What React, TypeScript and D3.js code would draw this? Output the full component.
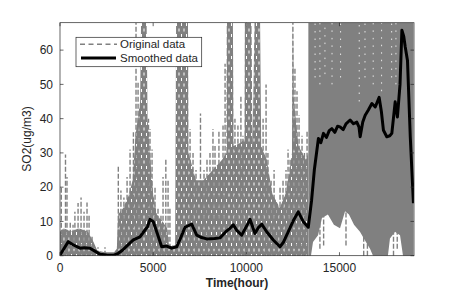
import React from "react";
import * as d3 from "d3";

// sparse part of the original data (many overlapping dashes): [time, low, high]
const sparseBand: [number, number, number][] = [
  [0, 0, 7], [200, 0, 8], [600, 0, 7], [1000, 0, 8], [1500, 0, 7], [1800, 0, 4],
  [2000, 0, 1.5], [2400, 0, 1], [2900, 0, 1], [3050, 0, 2], [3120, 0, 12], [3400, 0, 14],
  [3700, 0, 18], [3900, 0, 22], [4050, 0, 35], [4300, 0, 45], [4350, 0, 68], [4650, 0, 68],
  [4700, 0, 40], [4850, 0, 28], [5000, 0, 18], [5200, 0, 12], [5500, 0, 10], [5750, 0, 8],
  [5850, 0, 3], [6180, 0, 3], [6230, 0, 68], [6870, 0, 68], [6900, 0, 30], [7300, 0, 22],
  [7700, 0, 22], [8200, 0, 25], [8700, 0, 28], [8930, 0, 30], [8950, 0, 68], [9280, 0, 68],
  [9320, 0, 32], [9700, 0, 33], [9900, 0, 34], [9920, 0, 68], [10280, 0, 68], [10330, 0, 32],
  [10440, 0, 68], [10740, 0, 68], [10800, 0, 32], [11100, 0, 28], [11400, 0, 18], [11800, 0, 14],
  [12100, 0, 18], [12300, 0, 24], [12450, 0, 30], [12500, 0, 68], [12560, 0, 45], [12800, 0, 32],
  [13200, 0, 28], [13330, 0, 30],
];

// dense part of the original data: [time, low, high]
const denseBand: [number, number, number][] = [
  [13330, 0, 68], [13470, 0, 68], [13580, 4, 68], [13850, 6, 68], [14060, 11, 68], [14380, 12, 68],
  [14700, 9, 68], [15030, 8, 68], [15300, 13, 68], [15510, 12, 68], [15780, 9, 68], [16100, 7, 68],
  [16420, 4, 68], [16640, 2, 68], [16800, 0, 68], [17600, 0, 68], [17710, 5, 68], [17980, 7, 68],
  [18250, 6, 68], [18410, 0, 68], [18970, 0, 68],
];

// single dashed strokes of the original data: [time, low, high]
const originalSpikes: [number, number, number][] = [
  [70, 0, 20], [295, 0, 29.5], [375, 0, 23], [550, 0, 10], [700, 0, 9], [800, 0, 12.8],
  [970, 0, 15.4], [1130, 0, 17], [1290, 0, 12.8], [1450, 0, 15.5], [1560, 0, 11.9], [1720, 0, 6],
  [2040, 0, 2.5], [2415, 0, 2.5],
  [3130, 0, 26], [3270, 0, 19], [3430, 0, 17], [3600, 0, 23], [3760, 0, 31], [3940, 0, 36],
  [4080, 0, 68], [4190, 0, 51], [4290, 0, 42], [4750, 0, 40], [4830, 0, 37], [4940, 0, 31],
  [5100, 0, 20], [5260, 0, 14], [5420, 0, 12], [5530, 0, 23], [5680, 0, 28.4], [5800, 0, 22],
  [5900, 0, 14],
  [6980, 0, 37], [7140, 0, 30], [7300, 0, 25], [7540, 0, 41.5], [7730, 0, 25], [7890, 0, 28],
  [8050, 0, 30], [8210, 0, 37], [8320, 0, 32], [8530, 0, 36.6], [8750, 0, 38], [8860, 0, 56],
  [9390, 0, 40], [9550, 0, 38], [9710, 0, 47], [9820, 0, 35], [10900, 0, 40], [11060, 0, 50],
  [11160, 0, 30], [11330, 0, 22], [11490, 0, 25], [11650, 0, 15], [11810, 0, 20], [11970, 0, 22],
  [12130, 0, 25], [12240, 0, 31], [12350, 0, 28], [12500, 0, 68], [12610, 0, 55], [12720, 0, 48],
  [12830, 0, 41], [12990, 0, 35], [13120, 0, 30], [13260, 0, 36.6],
  [13950, 2, 20], [14150, 3, 14], [15350, 3, 15], [16300, 0, 10], [16500, 0, 8], [17900, 0, 14],
  [18100, 2, 10],
];

// dash gaps visible in the dense part: [time, low]
const dashGaps: [number, number][] = [
  [13690, 52], [13950, 50], [14220, 53], [14600, 50], [15060, 52], [16060, 45],
  [16370, 52], [16810, 50], [17260, 48], [17800, 52], [18030, 50],
];

// smoothed data: [time, value]
const smoothed: [number, number][] = [
  [0, 0.2], [445, 4.1], [700, 3.2], [1073, 2.2], [1300, 2.3], [1610, 2.2], [1850, 1.4],
  [2147, 0.4], [2500, 0.2], [2860, 0.1], [3130, 0.7], [3350, 1.6], [3580, 2.8], [3934, 4.6],
  [4294, 5.5], [4562, 7.5], [4700, 8.5], [4830, 10.6], [5007, 9.9], [5190, 7], [5458, 2.6],
  [5727, 2.8], [5995, 2.2], [6263, 2.6], [6500, 5.5], [6709, 8.3], [7068, 9.2], [7337, 6],
  [7600, 5.3], [7873, 4.9], [8300, 5], [8587, 5.2], [8900, 7], [9124, 8], [9302, 9],
  [9500, 7.3], [9752, 6], [10000, 8.5], [10197, 10.6], [10466, 6.5], [10650, 8.2], [10825, 9.2],
  [11093, 7], [11448, 4.6], [11807, 2.6], [12000, 4], [12253, 7], [12550, 10.5], [12789, 12.8],
  [13050, 10], [13326, 8.3], [13500, 16], [13650, 25], [13870, 34.2], [14000, 33], [14140, 35.7],
  [14300, 34.5], [14450, 36.5], [14590, 37.1], [14750, 36], [14900, 37.8], [15030, 37.6],
  [15200, 36.8], [15350, 38.5], [15570, 39.6], [15750, 38.5], [15930, 39], [16050, 37.5],
  [16110, 34.7], [16250, 39], [16380, 41], [16550, 42.5], [16740, 44.4], [16920, 43.4],
  [17130, 46.2], [17250, 42], [17360, 36.6], [17540, 34.7], [17700, 35], [17810, 35.7],
  [17990, 44.9], [18110, 40.5], [18250, 50], [18350, 65.8], [18450, 64], [18530, 60.9],
  [18650, 57], [18800, 34.7], [18970, 15.3],
];

const xTicks = [0, 5000, 10000, 15000];
const yTicks = [0, 10, 20, 30, 40, 50, 60];

const W = 457;
const H = 291;
const left = 60, right = 414, top = 22.7, bottom = 255.7;
const font = "'Liberation Sans', Arial, Helvetica, sans-serif";
const gray = "#808080";
const ink = "#262626";

const App = () => {
  const x = d3.scaleLinear().domain([0, 19000]).range([left, right]);
  const y = d3.scaleLinear().domain([0, 68]).range([bottom, top]);

  const band = d3.area<[number, number, number]>()
    .x(d => x(d[0]))
    .y0(d => y(d[1]))
    .y1(d => y(d[2]));

  const line = d3.line<[number, number]>()
    .x(d => x(d[0]))
    .y(d => y(d[1]));

  return (
    <svg width={W} height={H} style={{ position: "absolute", left: 0, top: 0, background: "#fff" }}>
      <defs>
        <clipPath id="plot">
          <rect x={left} y={top} width={right - left} height={bottom - top} />
        </clipPath>
        {/* overlapping dashed strokes: mostly gray with thin white dash gaps */}
        <pattern id="dashes" patternUnits="userSpaceOnUse" width={5} height={11}>
          <rect x={0} y={0} width={5} height={11} fill={gray} />
          <rect x={1} y={1} width={1} height={3} fill="#fff" />
          <rect x={3.5} y={6.5} width={1} height={3} fill="#fff" />
        </pattern>
      </defs>

      <g clipPath="url(#plot)">
        <path d={band(sparseBand) || ""} fill="url(#dashes)" />
        <path d={band(denseBand) || ""} fill={gray} />
        {originalSpikes.map((s, i) => (
          <line key={i} x1={x(s[0])} x2={x(s[0])} y1={y(s[1])} y2={y(s[2])}
            stroke={gray} strokeWidth={1.4} strokeDasharray="5,2" />
        ))}
        {dashGaps.map((g, i) => (
          <line key={i} x1={x(g[0])} x2={x(g[0])} y1={y(g[1])} y2={y(68)}
            stroke="#fff" strokeWidth={1} strokeDasharray="1.5,6" opacity={0.8} />
        ))}
        <path d={line(smoothed) || ""} fill="none" stroke="#000" strokeWidth={3} strokeLinejoin="round" />
      </g>

      {/* axes box */}
      <rect x={left} y={top} width={right - left} height={bottom - top} fill="none" stroke={ink} strokeWidth={0.7} />
      {xTicks.map(t => (
        <g key={t}>
          <line x1={x(t)} x2={x(t)} y1={bottom} y2={bottom - 3.5} stroke={ink} strokeWidth={0.7} />
          <line x1={x(t)} x2={x(t)} y1={top} y2={top + 3.5} stroke={ink} strokeWidth={0.7} />
          <text x={x(t)} y={272} textAnchor="middle" fontSize={12} fontFamily={font} fill={ink}>{t}</text>
        </g>
      ))}
      {yTicks.map(t => (
        <g key={t}>
          <line x1={left} x2={left + 3.5} y1={y(t)} y2={y(t)} stroke={ink} strokeWidth={0.7} />
          <line x1={right} x2={right - 3.5} y1={y(t)} y2={y(t)} stroke={ink} strokeWidth={0.7} />
          <text x={53} y={y(t) + 4.2} textAnchor="end" fontSize={12} fontFamily={font} fill={ink}>{t}</text>
        </g>
      ))}

      <text x={237} y={287} textAnchor="middle" fontSize={12} fontWeight={600} fontFamily={font} fill={ink}>Time(hour)</text>
      <text transform="translate(31,139) rotate(-90)" textAnchor="middle" fontSize={12} fontFamily={font} fill={ink}>SO2(ug/m3)</text>

      {/* legend */}
      <rect x={76} y={37.3} width={125.7} height={29.4} fill="#fff" stroke={ink} strokeWidth={0.7} />
      <line x1={80} x2={117} y1={44.3} y2={44.3} stroke={gray} strokeWidth={1.6} strokeDasharray="5,3.5" />
      <text x={120} y={48.4} fontSize={11.5} fontFamily={font} fill={ink}>Original data</text>
      <line x1={81} x2={116} y1={58} y2={58} stroke="#000" strokeWidth={3} />
      <text x={120} y={62.1} fontSize={11.5} fontFamily={font} fill={ink}>Smoothed data</text>
    </svg>
  );
};

export default App;
